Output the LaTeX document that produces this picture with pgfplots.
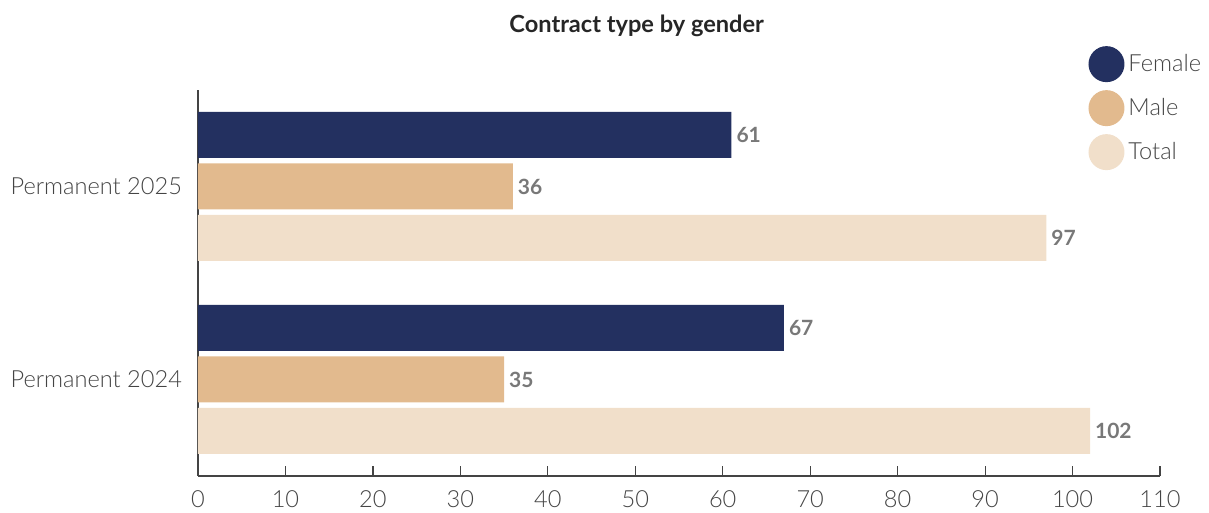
\documentclass[border=0pt]{standalone}
\usepackage{pgfplots}
\pgfplotsset{compat=1.18}
\usepackage{fontspec}
\setmainfont{Lato}
\newfontfamily\lightfont{Lato Light}
\definecolor{cfem}{RGB}{35,48,96}
\definecolor{cmale}{RGB}{226,186,142}
\definecolor{ctot}{RGB}{241,223,202}
\definecolor{ctxt}{RGB}{68,68,68}
\definecolor{cval}{RGB}{120,120,120}
\begin{document}
\begin{tikzpicture}
\path[use as bounding box] (-99pt,-18.5pt) rectangle (505.5pt,238pt);
\begin{axis}[
  at={(0pt,0pt)}, anchor=south west,
  scale only axis, width=481pt, height=193pt,
  xmin=0, xmax=110, ymin=-0.5, ymax=1.5,
  xtick={0,10,...,110},
  ytick={0,1}, yticklabels={Permanent 2024,Permanent 2025},
  axis x line=bottom, axis y line=left,
  axis line style={draw=ctxt, line width=0.6pt, -},
  x axis line style={-}, y axis line style={-},
  major tick length=5pt,
  xtick style={draw=ctxt, line width=0.6pt},
  xtick align=inside,
  ytick style={draw=none},
  tick label style={font=\lightfont\fontsize{11.8}{14}\selectfont, text=ctxt},
  /pgf/number format/assume math mode=true,
  xticklabel style={yshift=-4pt},
  yticklabel style={xshift=0.5pt},
  xbar, bar width=23pt,
  nodes near coords,
  every node near coord/.append style={font=\bfseries\fontsize{10.5}{12}\selectfont, text=cval, xshift=-1pt},
  legend image code/.code={\fill[#1] (4pt,0pt) circle (9pt);},
  legend style={at={(rel axis cs:0.919,1.125)}, anchor=north west, draw=none, fill=none,
    font=\lightfont\fontsize{11.8}{14}\selectfont, text=ctxt, row sep=4pt,
    /tikz/every even column/.append style={column sep=0pt}},
  legend cell align=left,
  clip=false,
]
\addplot[draw=none, fill=cfem, bar shift=25.75pt] coordinates {(67,0) (61,1)};
\addplot[draw=none, fill=cmale, bar shift=0pt] coordinates {(35,0) (36,1)};
\addplot[draw=none, fill=ctot, bar shift=-25.75pt] coordinates {(102,0) (97,1)};
\legend{Female,Male,Total}
\node[font=\bfseries\fontsize{11.8}{14}\selectfont, text=black!85] at (rel axis cs:0.456,1.165) {Contract type by gender};
\end{axis}
\end{tikzpicture}
\end{document}
